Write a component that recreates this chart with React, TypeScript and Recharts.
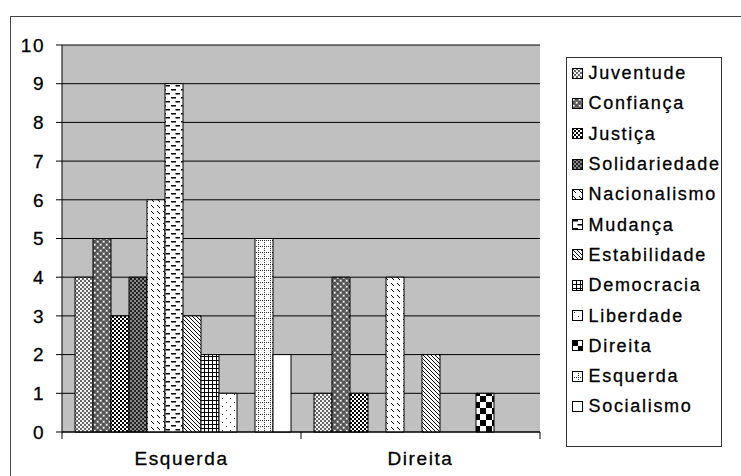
import { Bar, BarChart, CartesianGrid, Legend, XAxis, YAxis } from "recharts";

const categories = ["Esquerda", "Direita"];
const seriesNames = [
  "Juventude",
  "Confiança",
  "Justiça",
  "Solidariedade",
  "Nacionalismo",
  "Mudança",
  "Estabilidade",
  "Democracia",
  "Liberdade",
  "Direita",
  "Esquerda",
  "Socialismo",
];
const esquerdaValues = [4, 5, 3, 4, 6, 9, 3, 2, 1, 0, 5, 2];
const direitaValues = [1, 4, 1, 0, 4, 0, 2, 0, 0, 1, 0, 0];
const yTicks = [0, 1, 2, 3, 4, 5, 6, 7, 8, 9, 10];

const valuesByCategory = [esquerdaValues, direitaValues];
const data = categories.map((category, ci) => {
  const row: Record<string, string | number> = { category };
  seriesNames.forEach((name, si) => {
    row[name] = valuesByCategory[ci][si];
  });
  return row;
});

const FONT = '"Liberation Sans", Arial, sans-serif';

function Patterns() {
  return (
    <defs>
      {/* Juventude: grey checker */}
      <pattern id="pat0" width="4" height="4" patternUnits="userSpaceOnUse">
        <rect width="4" height="4" fill="#f4f4f4" />
        <rect x="0" y="0" width="2" height="2" fill="#666" />
        <rect x="2" y="2" width="2" height="2" fill="#666" />
      </pattern>
      {/* Confiança: dark with white dots */}
      <pattern id="pat1" width="6" height="6" patternUnits="userSpaceOnUse">
        <rect width="6" height="6" fill="#555" />
        <rect x="0" y="0" width="3" height="3" fill="#777" />
        <rect x="3" y="3" width="3" height="3" fill="#777" />
        <rect x="1" y="1" width="1.5" height="1.5" fill="#fff" />
        <rect x="4" y="4" width="1.5" height="1.5" fill="#fff" />
      </pattern>
      {/* Justiça: strong checker */}
      <pattern id="pat2" width="4" height="4" patternUnits="userSpaceOnUse">
        <rect width="4" height="4" fill="#fff" />
        <rect x="0" y="0" width="2" height="2" fill="#000" />
        <rect x="2" y="2" width="2" height="2" fill="#000" />
      </pattern>
      {/* Solidariedade: dark checker */}
      <pattern id="pat3" width="4" height="4" patternUnits="userSpaceOnUse">
        <rect width="4" height="4" fill="#8a8a8a" />
        <rect x="0" y="0" width="2" height="2" fill="#222" />
        <rect x="2" y="2" width="2" height="2" fill="#222" />
      </pattern>
      {/* Nacionalismo: short diagonal dashes */}
      <pattern id="pat4" width="6" height="6" patternUnits="userSpaceOnUse">
        <rect width="6" height="6" fill="#fff" />
        <path d="M1,1 L4,4" stroke="#000" strokeWidth="1" />
      </pattern>
      {/* Mudança: horizontal dashes */}
      <pattern id="pat5" width="10" height="8" patternUnits="userSpaceOnUse">
        <rect width="10" height="8" fill="#fff" />
        <rect x="1" y="1" width="5" height="1.5" fill="#000" />
        <rect x="5.5" y="5" width="4.5" height="1.5" fill="#000" />
      </pattern>
      {/* Estabilidade: dense diagonals */}
      <pattern id="pat6" width="4" height="4" patternUnits="userSpaceOnUse">
        <rect width="4" height="4" fill="#fff" />
        <path d="M0,0 L4,4 M-1,3 L1,5 M3,-1 L5,1" stroke="#000" strokeWidth="1" />
      </pattern>
      {/* Democracia: grid */}
      <pattern id="pat7" width="4" height="4" patternUnits="userSpaceOnUse">
        <rect width="4" height="4" fill="#fff" />
        <rect x="0" y="0" width="4" height="1" fill="#000" />
        <rect x="0" y="0" width="1" height="4" fill="#000" />
      </pattern>
      {/* Liberdade: sparse dots */}
      <pattern id="pat8" width="8" height="8" patternUnits="userSpaceOnUse">
        <rect width="8" height="8" fill="#fff" />
        <rect x="2" y="2" width="1" height="1" fill="#333" />
        <rect x="6" y="6" width="1" height="1" fill="#333" />
      </pattern>
      {/* Direita: large checkerboard */}
      <pattern id="pat9" width="12" height="12" patternUnits="userSpaceOnUse">
        <rect width="12" height="12" fill="#fff" />
        <rect x="0" y="0" width="6" height="6" fill="#000" />
        <rect x="6" y="6" width="6" height="6" fill="#000" />
      </pattern>
      {/* Esquerda: dotted grid */}
      <pattern id="pat10" width="6" height="6" patternUnits="userSpaceOnUse">
        <rect width="6" height="6" fill="#fff" />
        <rect x="0" y="0" width="1" height="1" fill="#333" />
        <rect x="0" y="2" width="1" height="1" fill="#333" />
        <rect x="0" y="4" width="1" height="1" fill="#333" />
        <rect x="2" y="0" width="1" height="1" fill="#333" />
        <rect x="4" y="0" width="1" height="1" fill="#333" />
      </pattern>
      {/* Socialismo: plain */}
      <pattern id="pat11" width="4" height="4" patternUnits="userSpaceOnUse">
        <rect width="4" height="4" fill="#fff" />
      </pattern>
    </defs>
  );
}

function CategoryTick(props: any) {
  const { x, y, payload, index } = props;
  const half = payload?.offset || 119.5;
  return (
    <g>
      {index === 0 && <line x1={x - half} y1={y} x2={x - half} y2={y + 7} stroke="#000" />}
      <line x1={x + half} y1={y} x2={x + half} y2={y + 7} stroke="#000" />
      <text
        x={x}
        y={y + 20}
        dy="0.71em"
        textAnchor="middle"
        fill="#000"
        stroke="#000"
        strokeWidth={0.3}
        style={{ fontFamily: FONT, fontSize: 19, letterSpacing: 1.6 }}
      >
        {payload.value}
      </text>
    </g>
  );
}

function LegendBox() {
  return (
    <div
      style={{
        width: 156,
        height: 390,
        boxSizing: "border-box",
        border: "1.5px solid #333",
        background: "#fff",
        fontFamily: FONT,
      }}
    >
      {seriesNames.map((name, i) => (
        <div
          key={name}
          style={{ display: "flex", alignItems: "center", height: 30.3, paddingLeft: 4.5 }}
        >
          <svg width="11" height="11" style={{ flex: "none" }}>
            <rect x="0.5" y="0.5" width="10" height="10" fill={`url(#pat${i})`} stroke="#000" />
          </svg>
          <span
            style={{
              marginLeft: 6,
              fontSize: 18,
              letterSpacing: 1.7,
              lineHeight: 1,
              color: "#000",
              WebkitTextStroke: "0.3px #000",
              whiteSpace: "nowrap",
            }}
          >
            {name}
          </span>
        </div>
      ))}
    </div>
  );
}

export default function App() {
  return (
    <div
      style={{
        position: "fixed",
        left: 0,
        top: 0,
        width: 741,
        height: 476,
        overflow: "hidden",
        background: "#fff",
      }}
    >
      <div
        style={{
          position: "absolute",
          left: 10,
          top: 16,
          width: 800,
          height: 800,
          border: "1.5px solid #444",
        }}
      />
      <div style={{ position: "absolute", left: 0, top: 0 }}>
        <BarChart
          width={741}
          height={476}
          data={data}
          margin={{ top: 45, right: 45, bottom: 14, left: 22 }}
          barCategoryGap={13}
          barGap={0}
        >
          <Patterns />
          <CartesianGrid vertical={false} stroke="#000" fill="#c0c0c0" fillOpacity={1} />
          <XAxis
            dataKey="category"
            height={30}
            tickSize={0}
            tickMargin={0}
            interval={0}
            axisLine={{ stroke: "#000" }}
            tickLine={false}
            tick={<CategoryTick />}
          />
          <YAxis
            width={40}
            domain={[0, 10]}
            ticks={yTicks}
            interval={0}
            tickSize={6}
            tickMargin={11}
            axisLine={{ stroke: "#000" }}
            tickLine={{ stroke: "#000" }}
            tick={{
              fontSize: 19,
              fill: "#000",
              stroke: "#000",
              strokeWidth: 0.3,
              fontFamily: FONT,
              letterSpacing: 1.5,
            }}
          />
          <Legend
            layout="vertical"
            align="right"
            verticalAlign="top"
            wrapperStyle={{ right: 19, top: 57 }}
            content={() => <LegendBox />}
          />
          {seriesNames.map((name, i) => (
            <Bar
              key={name}
              dataKey={name}
              name={name}
              fill={`url(#pat${i})`}
              stroke="#000"
              strokeWidth={1}
              isAnimationActive={false}
            />
          ))}
        </BarChart>
      </div>
    </div>
  );
}
